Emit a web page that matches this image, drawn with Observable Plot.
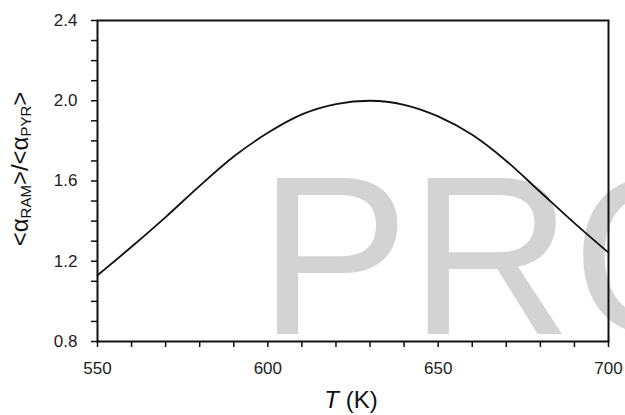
<!DOCTYPE html>
<html>
<head>
<meta charset="utf-8">
<script src="https://cdn.jsdelivr.net/npm/d3@7"></script>
<script src="https://cdn.jsdelivr.net/npm/@observablehq/plot@0.6"></script>
<style>
  html, body { margin: 0; padding: 0; background: #fff; }
  #chart svg { display: block; }
</style>
</head>
<body>
<div id="chart"></div>
<script>
// Temperature (K) and the ratio of mean alpha values, RAM over PYR
const temperature = [550, 560, 570, 580, 590, 600, 610, 620, 630, 640, 650, 660, 670, 680, 690, 700];
const alphaRatio  = [1.130, 1.272, 1.420, 1.576, 1.722, 1.840, 1.932, 1.983, 2.000, 1.980, 1.922, 1.830, 1.700, 1.545, 1.390, 1.243];

// Minor ticks everywhere, labels only on the major ones
const xTicks = [550, 560, 570, 580, 590, 600, 610, 620, 630, 640, 650, 660, 670, 680, 690, 700];
const xLabels = [550, 600, 650, 700];
const yTicks = [0.8, 0.9, 1.0, 1.1, 1.2, 1.3, 1.4, 1.5, 1.6, 1.7, 1.8, 1.9, 2.0, 2.1, 2.2, 2.3, 2.4];
const yLabels = [0.8, 1.2, 1.6, 2.0, 2.4];

const watermark = ["PRO"];

const data = temperature.map((t, i) => ({t, r: alphaRatio[i]}));

const fontFamily = "'Liberation Sans', Arial, sans-serif";

const chart = Plot.plot({
  width: 625,
  height: 415,
  marginLeft: 97,
  marginRight: 17,
  marginTop: 20,
  marginBottom: 74,
  style: {fontFamily, fontSize: "17px", color: "#222", background: "#fff"},
  x: {domain: [550, 700]},
  y: {domain: [0.8, 2.4]},
  marks: [
    Plot.text(watermark, {
      text: d => d,
      frameAnchor: "bottom-left",
      textAnchor: "start",
      lineAnchor: "bottom",
      dx: 161,
      dy: -8,
      fontSize: 226,
      fill: "#d3d3d3"
    }),
    // tick marks
    Plot.axisX({ticks: xTicks, tickSize: 6, strokeWidth: 1.5, stroke: "#111", text: null, label: null}),
    Plot.axisY({ticks: yTicks, tickSize: 6, strokeWidth: 1.5, stroke: "#111", text: null, label: null}),
    // tick labels
    Plot.axisX({ticks: xLabels, tickSize: 0, tickPadding: 20, tickFormat: d => String(d), label: null}),
    Plot.axisY({ticks: yLabels, tickSize: 0, tickPadding: 20, tickFormat: d => d.toFixed(1), label: null}),
    Plot.line(data, {x: "t", y: "r", curve: "monotone-x", stroke: "#111", strokeWidth: 1.8}),
    Plot.frame({stroke: "#111", strokeWidth: 2})
  ]
});

const svg = d3.select(chart);

// y-axis title: <α_RAM>/<α_PYR>
const yTitle = svg.append("text")
  .attr("transform", "translate(28,169) rotate(-90)")
  .attr("text-anchor", "middle")
  .attr("font-family", fontFamily)
  .attr("font-size", 24)
  .attr("fill", "#111");
yTitle.append("tspan").text("<α");
yTitle.append("tspan").attr("font-size", 15).attr("dy", 3).text("RAM");
yTitle.append("tspan").attr("dy", -3).text(">/<α");
yTitle.append("tspan").attr("font-size", 15).attr("dy", 3).text("PYR");
yTitle.append("tspan").attr("dy", -3).text(">");

// x-axis title: T (K)
const xTitle = svg.append("text")
  .attr("x", 351)
  .attr("y", 408)
  .attr("text-anchor", "middle")
  .attr("font-family", fontFamily)
  .attr("font-size", 24)
  .attr("fill", "#111");
xTitle.append("tspan").attr("font-style", "italic").text("T");
xTitle.append("tspan").text(" (K)");

document.getElementById("chart").appendChild(chart);
</script>
</body>
</html>
